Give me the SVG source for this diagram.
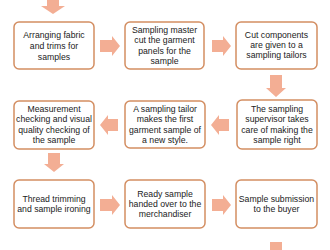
<svg xmlns="http://www.w3.org/2000/svg" width="330" height="250" viewBox="0 0 330 250">
<style>
.box{fill:#fff;stroke:#D38E62;stroke-width:1.5}
.arr{fill:#F3AE94}
text{font-family:"Liberation Sans",Arial,sans-serif;font-size:8.7px;fill:#222;text-anchor:middle}
</style>
<rect width="330" height="250" fill="#fff"/>
<g id="connectors">
<path class="arr" d="M47,0 H59 V6 H65 L53,14 L41,6 H47 Z"/>
<path class="arr" d="M100,40 H112 V36 L120,46 L112,56 V52 H100 Z"/>
<path class="arr" d="M212,40 H223 V36 L231,46 L223,56 V52 H212 Z"/>
<path class="arr" d="M270,75 H282 V88 H286 L276,97 L266,88 H270 Z"/>
<path class="arr" d="M229,119 H219 V115 L211,125 L219,135 V131 H229 Z"/>
<path class="arr" d="M118,119 H108 V115 L100,125 L108,135 V131 H118 Z"/>
<path class="arr" d="M48,153 H60 V164 H64 L54,172 L44,164 H48 Z"/>
<path class="arr" d="M100,199 H112 V195 L120,205 L112,215 V211 H100 Z"/>
<path class="arr" d="M212,199 H223 V195 L231,205 L223,215 V211 H212 Z"/>
<path class="arr" d="M270,242 H282 V251 H286 L276,260 L266,251 H270 Z"/>
</g>
<g id="n1"><rect class="box" x="14" y="22" width="80" height="47" rx="5"/>
<text x="54" y="38">Arranging fabric</text><text x="54" y="48.8">and trims for</text><text x="54" y="59.6">samples</text></g>
<g id="n2"><rect class="box" x="125" y="22" width="79" height="47" rx="5"/>
<text x="164.5" y="33">Sampling master</text><text x="164.5" y="43.4">cut the garment</text><text x="164.5" y="53.8">panels for the</text><text x="164.5" y="64.2">sample</text></g>
<g id="n3"><rect class="box" x="236" y="22" width="81" height="47" rx="5"/>
<text x="276.5" y="37.5">Cut components</text><text x="276.5" y="47.9">are given to a</text><text x="276.5" y="58.3">sampling tailors</text></g>
<g id="n4"><rect class="box" x="237" y="100" width="80" height="49" rx="5"/>
<text x="277" y="112">The sampling</text><text x="277" y="122.4">supervisor takes</text><text x="277" y="132.8">care of making the</text><text x="277" y="143.2">sample right</text></g>
<g id="n5"><rect class="box" x="125" y="101" width="80" height="47" rx="5"/>
<text x="165" y="112">A sampling tailor</text><text x="165" y="122.4">makes the first</text><text x="165" y="132.8">garment sample of</text><text x="165" y="143.2">a new style.</text></g>
<g id="n6"><rect class="box" x="14" y="101" width="80" height="48" rx="5"/>
<text x="54" y="112">Measurement</text><text x="54" y="122.4">checking and visual</text><text x="54" y="132.8">quality checking of</text><text x="54" y="143.2">the sample</text></g>
<g id="n7"><rect class="box" x="14" y="180" width="80" height="48" rx="5"/>
<text x="54" y="202">Thread trimming</text><text x="54" y="212.4">and sample ironing</text></g>
<g id="n8"><rect class="box" x="125" y="180" width="80" height="48" rx="5"/>
<text x="165" y="196.5">Ready sample</text><text x="165" y="206.9">handed over to the</text><text x="165" y="217.3">merchandiser</text></g>
<g id="n9"><rect class="box" x="236" y="180" width="81" height="48" rx="5"/>
<text x="276.5" y="202">Sample submission</text><text x="276.5" y="212.4">to the buyer</text></g>
</svg>
